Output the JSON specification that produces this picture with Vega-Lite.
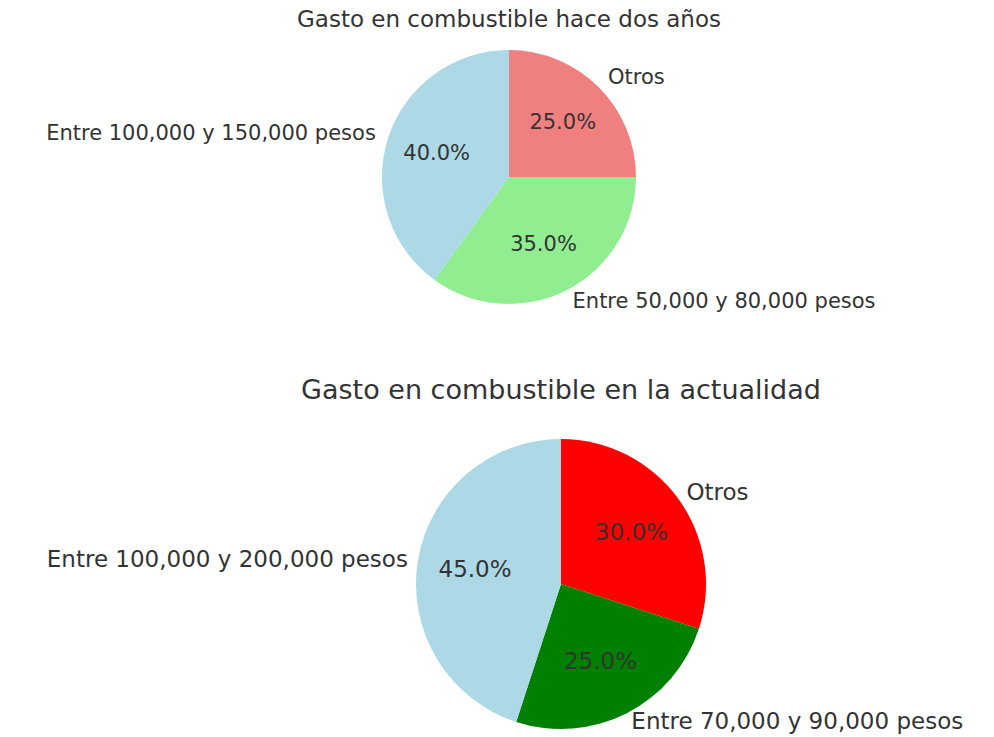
{
  "$schema": "https://vega.github.io/schema/vega-lite/v6.json",
  "background": "white",
  "padding": {"left": 46, "top": 9, "right": 5, "bottom": 0},
  "bounds": "flush",
  "spacing": 117,
  "config": {
    "view": {"stroke": null},
    "font": "DejaVu Sans",
    "title": {"font": "DejaVu Sans", "fontWeight": "normal", "color": "#333333", "frame": "group", "anchor": "middle", "baseline": "alphabetic"}
  },
  "resolve": {"scale": {"color": "independent", "theta": "independent"}},
  "vconcat": [
    {
      "title": {"text": "Gasto en combustible hace dos años", "fontSize": 23, "offset": 10},
      "width": 400,
      "height": 270,
      "data": {"values": [
        {"categoria": "Otros", "proporcion": 0.25},
        {"categoria": "Entre 50,000 y 80,000 pesos", "proporcion": 0.35},
        {"categoria": "Entre 100,000 y 150,000 pesos", "proporcion": 0.40}
      ]},
      "transform": [{"window": [{"op": "row_number", "as": "orden"}]}],
      "encoding": {
        "theta": {"field": "proporcion", "type": "quantitative", "stack": true},
        "order": {"field": "orden", "type": "quantitative"}
      },
      "layer": [
        {
          "mark": {"type": "arc", "radius": 127, "stroke": null},
          "encoding": {
            "color": {"field": "categoria", "type": "nominal", "legend": null,
              "scale": {"domain": ["Otros", "Entre 50,000 y 80,000 pesos", "Entre 100,000 y 150,000 pesos"], "range": ["#F08080", "#90EE90", "#ADD8E6"]}}
          }
        },
        {
          "mark": {"type": "text", "radius": 76, "fontSize": 21, "color": "#333333", "align": "center", "baseline": "middle"},
          "encoding": {"text": {"field": "proporcion", "type": "quantitative", "format": ".1%"}}
        },
        {
          "mark": {"type": "text", "radius": 140, "fontSize": 21, "color": "#333333", "align": "left", "baseline": "middle"},
          "encoding": {"text": {"condition": {"test": "datum.categoria !== 'Entre 100,000 y 150,000 pesos'", "field": "categoria"}, "value": ""}}
        },
        {
          "mark": {"type": "text", "radius": 140, "fontSize": 21, "color": "#333333", "align": "right", "baseline": "middle"},
          "encoding": {"text": {"condition": {"test": "datum.categoria === 'Entre 100,000 y 150,000 pesos'", "field": "categoria"}, "value": ""}}
        }
      ]
    },
    {
      "title": {"text": "Gasto en combustible en la actualidad", "fontSize": 27, "offset": 24},
      "width": 504,
      "height": 310,
      "data": {"values": [
        {"categoria": "Otros", "proporcion": 0.30},
        {"categoria": "Entre 70,000 y 90,000 pesos", "proporcion": 0.25},
        {"categoria": "Entre 100,000 y 200,000 pesos", "proporcion": 0.45}
      ]},
      "transform": [{"window": [{"op": "row_number", "as": "orden"}]}],
      "encoding": {
        "theta": {"field": "proporcion", "type": "quantitative", "stack": true},
        "order": {"field": "orden", "type": "quantitative"}
      },
      "layer": [
        {
          "mark": {"type": "arc", "radius": 145, "stroke": null},
          "encoding": {
            "color": {"field": "categoria", "type": "nominal", "legend": null,
              "scale": {"domain": ["Otros", "Entre 70,000 y 90,000 pesos", "Entre 100,000 y 200,000 pesos"], "range": ["#FF0000", "#008000", "#ADD8E6"]}}
          }
        },
        {
          "mark": {"type": "text", "radius": 87, "fontSize": 23, "color": "#333333", "align": "center", "baseline": "middle"},
          "encoding": {"text": {"field": "proporcion", "type": "quantitative", "format": ".1%"}}
        },
        {
          "mark": {"type": "text", "radius": 155, "fontSize": 23, "color": "#333333", "align": "left", "baseline": "middle"},
          "encoding": {"text": {"condition": {"test": "datum.categoria !== 'Entre 100,000 y 200,000 pesos'", "field": "categoria"}, "value": ""}}
        },
        {
          "mark": {"type": "text", "radius": 155, "fontSize": 23, "color": "#333333", "align": "right", "baseline": "middle"},
          "encoding": {"text": {"condition": {"test": "datum.categoria === 'Entre 100,000 y 200,000 pesos'", "field": "categoria"}, "value": ""}}
        }
      ]
    }
  ]
}
